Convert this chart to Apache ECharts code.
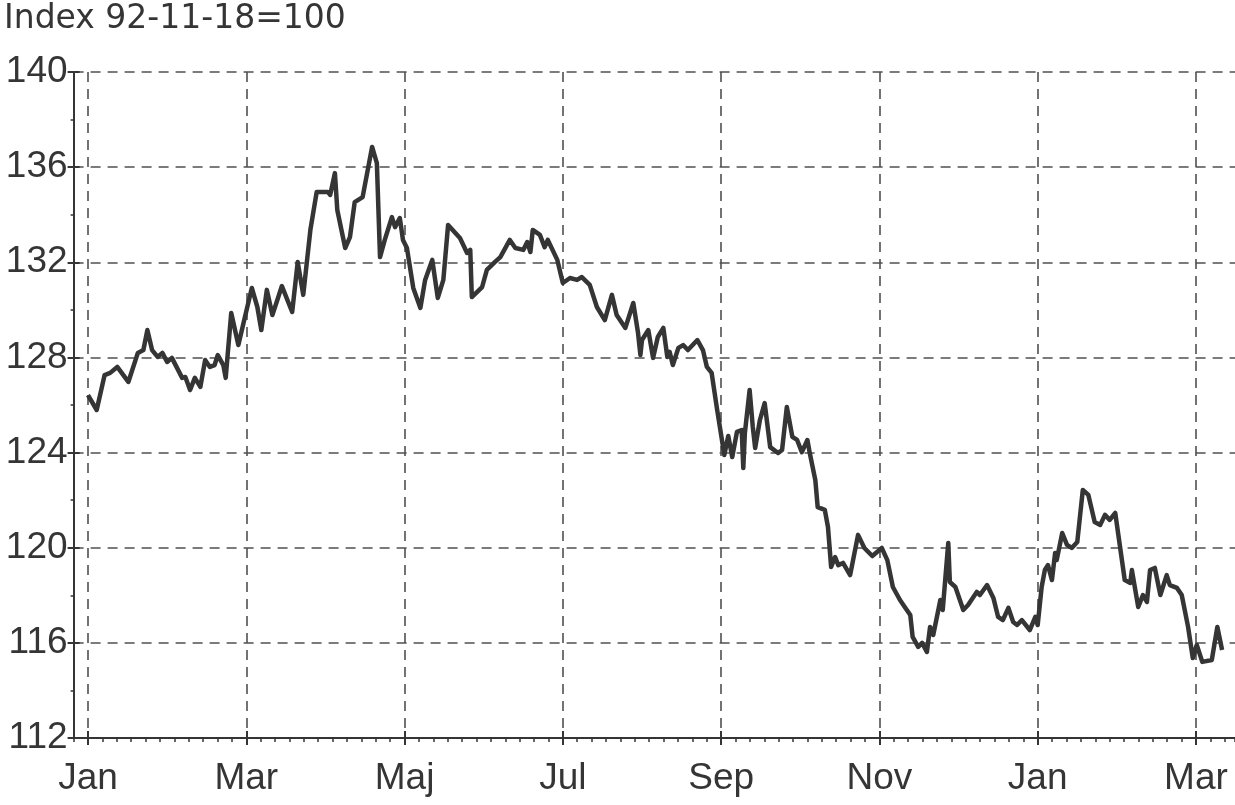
<!DOCTYPE html>
<html>
<head>
<meta charset="utf-8">
<script src="https://cdn.jsdelivr.net/npm/echarts@6/dist/echarts.min.js"></script>
<style>
html,body{margin:0;padding:0;background:#fff;}
#chart{width:1235px;height:805px;}
</style>
</head>
<body>
<div id="chart"></div>
<script>
// Month ticks (x = months since the first January), one label every 2 months
var monthLabels = ['Jan', 'Mar', 'Maj', 'Jul', 'Sep', 'Nov', 'Jan', 'Mar'];
var monthTickValues = [0, 2, 4, 6, 8, 10, 12, 14];
var yTicks = [112, 116, 120, 124, 128, 132, 136, 140];

// Time positions (months since first Jan) of traced points
var months = [
  0.00,0.11,0.21,0.28,0.37,0.51,0.63,0.70,0.75,0.81,0.88,0.94,1.00,1.06,1.19,1.23,1.29,1.35,1.42,1.48,
  1.54,1.60,1.64,1.71,1.74,1.81,1.90,1.98,2.07,2.14,2.19,2.26,2.33,2.45,2.58,2.65,2.72,2.81,2.89,3.03,
  3.06,3.12,3.15,3.25,3.31,3.37,3.47,3.59,3.65,3.69,3.75,3.84,3.88,3.94,3.98,4.03,4.11,4.20,4.26,4.35,
  4.42,4.49,4.55,4.70,4.79,4.83,4.85,4.98,5.04,5.14,5.21,5.33,5.40,5.50,5.55,5.59,5.62,5.71,5.77,5.81,
  5.93,6.00,6.09,6.18,6.24,6.34,6.43,6.53,6.62,6.68,6.79,6.89,6.95,6.98,7.00,7.08,7.14,7.20,7.27,7.32,
  7.35,7.39,7.46,7.52,7.58,7.70,7.77,7.82,7.88,7.95,8.01,8.04,8.09,8.14,8.20,8.26,8.28,8.30,8.36,8.40,
  8.43,8.49,8.55,8.62,8.72,8.77,8.83,8.90,8.96,9.02,9.09,9.12,9.19,9.22,9.31,9.35,9.39,9.44,9.48,9.54,
  9.63,9.73,9.81,9.91,10.03,10.10,10.17,10.26,10.32,10.39,10.42,10.49,10.54,10.60,10.64,10.68,10.77,10.80,10.87,10.89,
  10.96,11.06,11.12,11.23,11.27,11.36,11.44,11.50,11.56,11.63,11.69,11.74,11.80,11.90,11.97,12.00,12.05,12.09,12.13,12.18,
  12.22,12.24,12.31,12.37,12.43,12.50,12.57,12.64,12.72,12.79,12.85,12.91,12.98,13.01,13.10,13.17,13.19,13.27,13.33,13.38,
  13.42,13.48,13.55,13.63,13.67,13.76,13.82,13.90,13.96,14.01,14.08,14.20,14.27,14.33
];

// Index values (92-11-18 = 100)
var indexValues = [
  126.42,125.79,127.26,127.35,127.60,126.97,128.19,128.31,129.15,128.31,128.02,128.19,127.81,127.98,127.14,127.18,126.63,127.14,126.76,127.89,
  127.60,127.68,128.10,127.68,127.14,129.87,128.52,129.66,130.92,130.12,129.15,130.84,129.78,131.00,129.91,132.01,130.63,133.36,134.96,134.96,
  134.83,135.75,134.20,132.60,133.06,134.53,134.74,136.85,136.17,132.22,132.94,133.90,133.48,133.86,132.94,132.60,130.92,130.08,131.26,132.10,
  130.50,131.26,133.57,133.02,132.39,132.52,130.54,130.96,131.68,132.01,132.22,132.94,132.60,132.52,132.85,132.43,133.36,133.15,132.64,132.94,
  132.10,131.13,131.34,131.26,131.38,131.05,130.12,129.57,130.63,129.78,129.24,130.29,129.03,128.10,128.73,129.15,127.98,128.86,129.24,128.02,
  128.23,127.68,128.40,128.52,128.31,128.73,128.31,127.60,127.35,125.79,124.53,123.90,124.70,123.81,124.87,124.95,123.35,124.82,126.63,125.08,
  124.19,125.37,126.08,124.23,123.98,124.11,125.92,124.66,124.53,124.02,124.53,123.98,122.85,121.71,121.59,120.87,119.19,119.61,119.27,119.36,
  118.85,120.54,119.99,119.65,119.99,119.48,118.35,117.80,117.51,117.17,116.25,115.83,116.00,115.62,116.67,116.33,117.80,117.38,120.20,118.56,
  118.35,117.38,117.59,118.14,118.01,118.43,117.89,117.09,116.96,117.47,116.88,116.75,116.96,116.54,117.09,116.75,118.35,119.06,119.27,118.64,
  119.78,119.48,120.62,120.12,119.99,120.24,122.43,122.22,121.08,120.96,121.38,121.17,121.46,120.75,118.64,118.52,119.06,117.51,118.01,117.72,
  119.06,119.15,118.01,118.85,118.43,118.31,118.01,116.67,115.36,115.91,115.20,115.28,116.67,115.70
];

var titleText = 'Index 92-11-18=100';

var seriesData = months.map(function (m, i) { return [m, indexValues[i]]; });

var ink = '#353535';
var fontFam = '"Liberation Sans", Arial, Helvetica, sans-serif';

// minor x step: 11 small ticks per 2-month interval
var minorStep = 2 / 11;

var chart = echarts.init(document.getElementById('chart'), null, {renderer: 'canvas'});
var xBase = {
  type: 'value', min: -minorStep, max: 14.493, interval: minorStep, position: 'bottom'
};
var yBase = {
  type: 'value', min: yTicks[0], max: yTicks[yTicks.length - 1], interval: 4, position: 'left'
};
chart.setOption({
  animation: false,
  backgroundColor: '#ffffff',
  title: {
    text: titleText, left: -1, top: -2,
    textStyle: {color: ink, fontSize: 33, fontWeight: 'normal', fontFamily: '"DejaVu Sans", sans-serif'}
  },
  grid: {left: 73.6, right: 0, top: 72, bottom: 67, containLabel: false},
  xAxis: [
    Object.assign({}, xBase, {
      axisLine: {show: true, onZero: false, lineStyle: {color: ink, width: 2}},
      axisTick: {show: true, length: 7, customValues: monthTickValues, lineStyle: {color: ink, width: 2}},
      axisLabel: {
        show: true, margin: 22, color: ink, fontSize: 37, fontFamily: fontFam,
        customValues: monthTickValues,
        formatter: function (v) { var i = monthTickValues.indexOf(Math.round(v)); return i >= 0 ? monthLabels[i] : ''; }
      },
      splitLine: {show: true, lineStyle: {color: '#505050', width: 1.6, type: [10, 7]}}
    }),
    Object.assign({}, xBase, {
      axisLine: {show: false, onZero: false},
      axisTick: {show: true, inside: true, length: 7, customValues: monthTickValues, lineStyle: {color: ink, width: 2}},
      axisLabel: {show: false},
      splitLine: {show: false}
    }),
    Object.assign({}, xBase, {
      axisLine: {show: false, onZero: false},
      axisTick: {show: true, length: 4, lineStyle: {color: ink, width: 1.5}},
      axisLabel: {show: false},
      splitLine: {show: false}
    })
  ],
  yAxis: [
    Object.assign({}, yBase, {
      axisLine: {show: true, onZero: false, lineStyle: {color: ink, width: 2}},
      axisTick: {show: true, length: 6, lineStyle: {color: ink, width: 2}},
      minorTick: {show: true, splitNumber: 2, length: 3, lineStyle: {color: ink, width: 1.5}},
      axisLabel: {show: true, margin: 6, color: ink, fontSize: 37, fontFamily: fontFam},
      splitLine: {show: true, lineStyle: {color: '#505050', width: 1.6, type: [10, 7]}}
    }),
    Object.assign({}, yBase, {
      axisLine: {show: false, onZero: false},
      axisTick: {show: true, inside: true, length: 6, lineStyle: {color: ink, width: 2}},
      axisLabel: {show: false},
      splitLine: {show: false}
    })
  ],
  series: [{
    type: 'line',
    data: seriesData,
    xAxisIndex: 0, yAxisIndex: 0,
    showSymbol: false, symbol: 'none',
    lineStyle: {color: ink, width: 4.5, join: 'round'},
    silent: true
  }]
});
</script>
</body>
</html>
